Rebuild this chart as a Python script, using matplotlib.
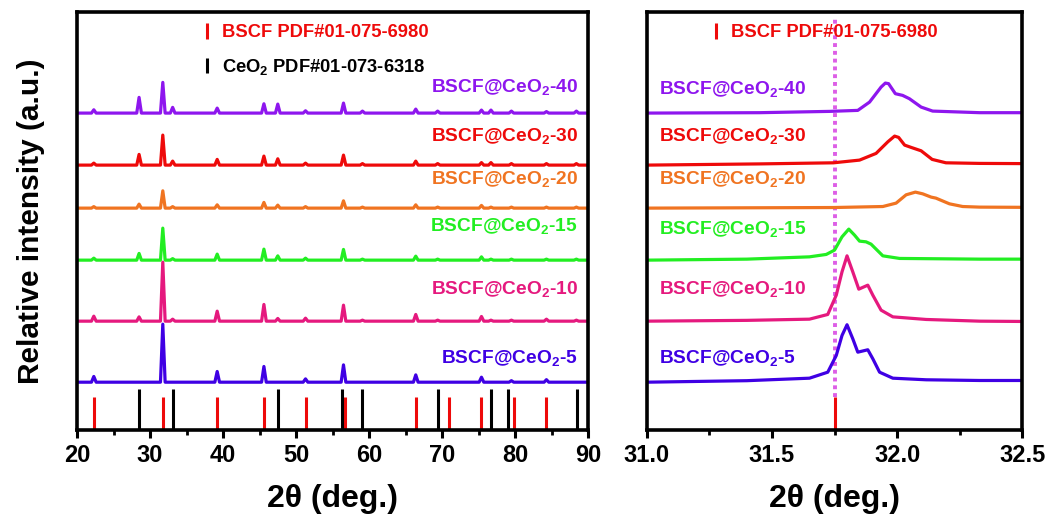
import matplotlib
matplotlib.use("Agg")
import matplotlib.pyplot as plt
from matplotlib.ticker import MultipleLocator, FormatStrFormatter

plt.rcParams['font.family'] = ['Liberation Sans', 'DejaVu Sans']
plt.rcParams['mathtext.fontset'] = 'custom'
plt.rcParams['mathtext.rm'] = 'Liberation Sans'
plt.rcParams['mathtext.bf'] = 'Liberation Sans:bold'

# ---------------- data ----------------
sample_labels = [r"BSCF@CeO$_\mathbf{2}$-5", r"BSCF@CeO$_\mathbf{2}$-10",
                 r"BSCF@CeO$_\mathbf{2}$-15", r"BSCF@CeO$_\mathbf{2}$-20",
                 r"BSCF@CeO$_\mathbf{2}$-30", r"BSCF@CeO$_\mathbf{2}$-40"]
sample_colors = ["#3F00E4", "#E5197E", "#22EE22", "#F07421", "#EE0A0A", "#8E16EE"]

# reflection positions (2θ, deg.) observed in the wide scans
peak_pos = [22.3, 28.5, 31.75, 33.1, 39.2, 45.6, 47.5, 51.3, 56.5, 59.1,
            66.4, 69.4, 75.4, 76.7, 79.5, 84.3, 88.4]
# peak heights above baseline (a.u.) for each sample, same order as peak_pos
peaks_5  = [5.7, 0.0, 58.0, 0.0, 10.7, 15.7, 0.0, 3.3, 17.3, 0.0, 7.3, 0.0, 5.0, 0.0, 1.5, 2.5, 0.0]
peaks_10 = [5.0, 4.3, 59.0, 2.0, 10.0, 16.7, 2.7, 3.0, 16.0, 1.0, 6.7, 1.0, 4.7, 1.0, 1.0, 2.0, 1.0]
peaks_15 = [2.0, 6.7, 32.0, 1.5, 6.0, 11.0, 4.3, 2.0, 10.7, 1.0, 4.0, 1.0, 3.3, 1.0, 1.0, 1.0, 1.0]
peaks_20 = [1.5, 4.0, 17.3, 1.5, 3.3, 5.7, 3.0, 1.5, 7.3, 1.0, 3.3, 1.0, 2.7, 1.0, 1.0, 1.0, 1.0]
peaks_30 = [2.0, 10.7, 30.0, 4.0, 5.7, 9.0, 6.3, 2.0, 10.0, 1.5, 4.0, 1.5, 2.5, 2.5, 1.5, 1.5, 1.5]
peaks_40 = [3.3, 15.7, 30.7, 5.7, 5.0, 9.3, 9.0, 2.3, 10.0, 2.0, 4.0, 2.0, 3.0, 3.0, 2.0, 1.5, 2.0]
wide_peaks = [peaks_5, peaks_10, peaks_15, peaks_20, peaks_30, peaks_40]

# standard reference patterns
bscf_ref = [22.3, 31.75, 39.2, 45.6, 51.3, 56.7, 66.4, 71.0, 75.4, 79.9, 84.3]
ceo2_ref = [28.55, 33.08, 47.48, 56.34, 59.09, 69.42, 76.70, 79.07, 88.42]

# narrow scans around the (110) reflection
zoom_x_5  = [31.0, 31.4, 31.65, 31.723, 31.757, 31.78, 31.80, 31.823, 31.843, 31.883, 31.903, 31.93, 31.983, 32.116, 32.33, 32.5]
zoom_y_5  = [0.0, 1.5, 4.0, 10.0, 26.7, 46.7, 57.4, 43.4, 30.0, 32.4, 23.4, 10.0, 4.0, 2.4, 1.7, 1.7]
zoom_x_10 = [31.0, 31.4, 31.65, 31.723, 31.757, 31.78, 31.80, 31.823, 31.847, 31.883, 31.903, 31.936, 31.983, 32.116, 32.33, 32.5]
zoom_y_10 = [0.0, 0.8, 2.0, 6.7, 26.0, 49.3, 65.3, 49.3, 32.0, 36.0, 26.0, 11.0, 4.3, 1.7, 0.0, -0.3]
zoom_x_15 = [31.0, 31.4, 31.65, 31.717, 31.75, 31.78, 31.807, 31.83, 31.85, 31.876, 31.896, 31.943, 32.01, 32.33, 32.5]
zoom_y_15 = [0.0, 1.0, 3.3, 5.7, 10.0, 23.3, 31.0, 25.0, 19.0, 18.3, 16.0, 4.3, 1.7, 1.0, 1.0]
zoom_x_20 = [31.0, 31.746, 31.943, 31.996, 32.036, 32.073, 32.102, 32.136, 32.155, 32.209, 32.262, 32.33, 32.5]
zoom_y_20 = [0.0, 0.6, 1.6, 5.0, 13.3, 16.0, 14.3, 11.0, 10.0, 4.3, 1.6, 1.0, 0.8]
zoom_x_30 = [31.0, 31.45, 31.746, 31.85, 31.916, 31.963, 31.99, 32.006, 32.03, 32.056, 32.096, 32.14, 32.195, 32.33, 32.5]
zoom_y_30 = [0.0, 1.2, 2.3, 5.0, 11.7, 23.3, 29.0, 27.7, 20.0, 17.7, 14.3, 5.7, 2.3, 1.7, 1.5]
zoom_x_40 = [31.0, 31.45, 31.73, 31.843, 31.89, 31.936, 31.953, 31.966, 31.993, 32.022, 32.049, 32.096, 32.142, 32.33, 32.5]
zoom_y_40 = [0.0, 0.4, 1.7, 2.7, 11.0, 26.0, 30.0, 29.4, 19.4, 17.7, 14.4, 6.0, 2.0, 0.4, 0.4]
zoom_x = [zoom_x_5, zoom_x_10, zoom_x_15, zoom_x_20, zoom_x_30, zoom_x_40]
zoom_y = [zoom_y_5, zoom_y_10, zoom_y_15, zoom_y_20, zoom_y_30, zoom_y_40]

# ---------------- layout / style ----------------
offsets = [48, 109, 170, 222, 265, 317]
label_y_left = [71, 140, 203, 250, 293, 342]
label_y_right = [71, 140, 200, 250, 293, 340]
YMAX = 418
half_width = 0.32
bscf_stick, ceo2_stick = 33, 41
lw = 2.3
label_fs = 13.8
key_fs = 13.2
tick_fs = 17

fig = plt.figure(figsize=(10.55, 5.24), dpi=100)
ax1 = fig.add_axes([0.073, 0.179, 0.4844, 0.798])
ax2 = fig.add_axes([0.613, 0.179, 0.356, 0.798])


def spike_trace(positions, heights, xmin, xmax):
    xs, ys = [xmin], [0.0]
    for p, h in sorted(zip(positions, heights)):
        if h <= 0:
            continue
        xs += [p - half_width, p, p + half_width]
        ys += [0.0, h, 0.0]
    xs.append(xmax)
    ys.append(0.0)
    return xs, ys


# wide scans
for heights, off, col, lab, ly in zip(wide_peaks, offsets, sample_colors, sample_labels, label_y_left):
    xs, ys = spike_trace(peak_pos, heights, 20, 90)
    ax1.plot(xs, [y + off for y in ys], color=col, lw=lw, solid_joinstyle='round')
    ax1.text(88.6, ly, lab, color=col, fontsize=label_fs, fontweight='bold',
             ha='right', va='center')

ax1.vlines(bscf_ref, 0, bscf_stick, color='#EE0A0A', lw=2.2)
ax1.vlines(ceo2_ref, 0, ceo2_stick, color='black', lw=2.2)

# pattern key
ax1.vlines([37.8], 391, 407, color='#EE0A0A', lw=2.2)
ax1.text(39.9, 398, "BSCF PDF#01-075-6980", color='#EE0A0A', fontsize=key_fs,
         fontweight='bold', va='center', ha='left')
ax1.vlines([37.8], 357, 372, color='black', lw=2.2)
ax1.text(39.9, 363, r"CeO$_\mathbf{2}$ PDF#01-073-6318", color='black', fontsize=key_fs,
         fontweight='bold', va='center', ha='left')

ax1.set_xlim(20, 90)
ax1.set_ylim(0, YMAX)
ax1.xaxis.set_major_locator(MultipleLocator(10))
ax1.xaxis.set_minor_locator(MultipleLocator(5))
ax1.set_yticks([])
ax1.set_ylabel("Relative intensity (a.u.)", fontsize=21.5, fontweight='bold', labelpad=23)

# narrow scans
ax2.axvline(31.75, ymin=bscf_stick / YMAX, ymax=0.985, color='#DD5EE6', lw=2.8,
            linestyle=(0, (1.0, 1.0)))
for xs, ys, off, col, lab, ly in zip(zoom_x, zoom_y, offsets, sample_colors, sample_labels, label_y_right):
    ax2.plot(xs, [y + off for y in ys], color=col, lw=lw, solid_joinstyle='round')
    ax2.text(31.05, ly, lab, color=col, fontsize=label_fs, fontweight='bold',
             ha='left', va='center')
ax2.vlines([31.75], 0, bscf_stick, color='#EE0A0A', lw=2.2)
ax2.vlines([31.275], 391, 407, color='#EE0A0A', lw=2.2)
ax2.text(31.335, 398, "BSCF PDF#01-075-6980", color='#EE0A0A', fontsize=key_fs,
         fontweight='bold', va='center', ha='left')

ax2.set_xlim(31.0, 32.5)
ax2.set_ylim(0, YMAX)
ax2.xaxis.set_major_locator(MultipleLocator(0.5))
ax2.xaxis.set_minor_locator(MultipleLocator(0.25))
ax2.xaxis.set_major_formatter(FormatStrFormatter('%.1f'))
ax2.set_yticks([])

for ax in (ax1, ax2):
    for s in ax.spines.values():
        s.set_linewidth(2.6)
    ax.tick_params(axis='x', which='major', direction='out', length=6, width=2.2, pad=4,
                   labelsize=tick_fs)
    ax.tick_params(axis='x', which='minor', direction='out', length=3.5, width=2.0)
    for t in ax.get_xticklabels():
        t.set_fontweight('bold')
    ax.set_xlabel("2θ (deg.)", fontsize=23, fontweight='bold', labelpad=12)

fig.savefig("out.png", dpi=100)
